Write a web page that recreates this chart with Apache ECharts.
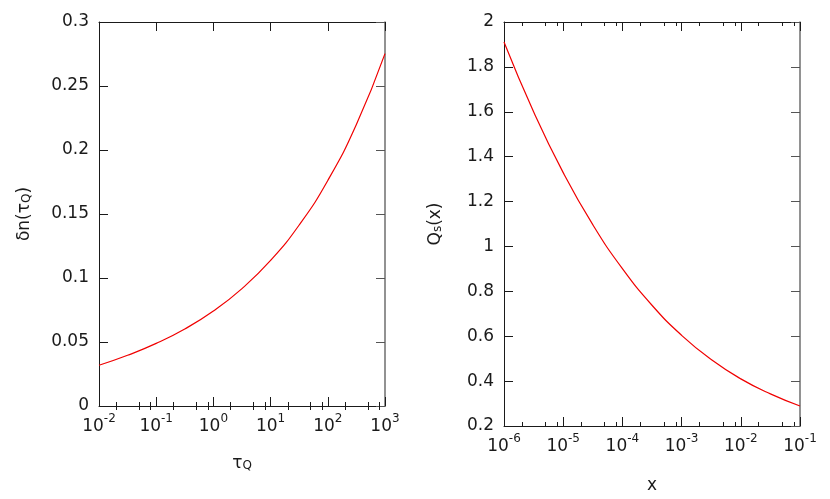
<!DOCTYPE html>
<html><head><meta charset="utf-8">
<script src="https://cdn.jsdelivr.net/npm/echarts@6/dist/echarts.min.js"></script>
<style>html,body{margin:0;padding:0;background:#fff}#c{width:830px;height:499px}</style>
</head><body><div id="c"></div>
<script>
// Left panel: delta n vs tau_Q
const tauQ   = [0.01, 0.0316, 0.1, 0.316, 1, 3.16, 10, 31.6, 100, 316, 1000];
const deltaN = [0.0318, 0.0396, 0.0489, 0.0602, 0.0742, 0.0917, 0.1137, 0.1414, 0.1762, 0.2199, 0.2753];
// Right panel: Q_s vs x
const xVals  = [1e-6, 3.16e-6, 1e-5, 3.16e-5, 1e-4, 3.16e-4, 1e-3, 3.16e-3, 1e-2, 3.16e-2, 1e-1];
const qsVals = [1.911, 1.600, 1.329, 1.097, 0.901, 0.738, 0.604, 0.496, 0.410, 0.343, 0.289];
// Ticks
const leftMajorTicks  = [1e-2, 1e-1, 1, 10, 100, 1000];
const leftMinorTicks  = [2e-2, 5e-2, 8e-2, 2e-1, 5e-1, 8e-1, 2, 5, 8, 20, 50, 80, 200, 500, 800];
const rightMajorTicks = [1e-6, 1e-5, 1e-4, 1e-3, 1e-2, 1e-1];
const rightMinorTicks = [2e-6, 5e-6, 8e-6, 2e-5, 5e-5, 8e-5, 2e-4, 5e-4, 8e-4, 2e-3, 5e-3, 8e-3, 2e-2, 5e-2, 8e-2];

const FONT = 'DejaVu Sans';
const BLACK = '#1a1a1a';
const rich = {
  b:   {fontFamily: FONT, fontSize: 17, color: BLACK, lineHeight: 22, verticalAlign: 'bottom'},
  sup: {fontFamily: FONT, fontSize: 12, color: BLACK, lineHeight: 22, verticalAlign: 'top'},
  sub: {fontFamily: FONT, fontSize: 12, color: BLACK, lineHeight: 14, verticalAlign: 'bottom'}
};
function powLabel(v){
  const e = Math.round(Math.log10(v));
  return '{b|10}{sup|' + e + '}';
}

function logAxes(grid, min, max, major, minor, name, nameGap){
  const base = {type:'log', logBase:10, gridIndex:grid, min:min, max:max, splitLine:{show:false}};
  return [
    Object.assign({}, base, {
      position:'bottom',
      axisLine:{show:true, onZero:false, lineStyle:{color:BLACK, width:1}},
      axisTick:{show:true, inside:true, length:9, customValues:major, lineStyle:{color:BLACK}},
      axisLabel:{show:true, customValues:major, formatter:powLabel, margin:7, rich:rich},
      name:name, nameLocation:'middle', nameGap:nameGap,
      nameTextStyle:{rich:rich}
    }),
    Object.assign({}, base, {
      position:'bottom',
      axisLine:{show:false},
      axisTick:{show:true, inside:true, length:4, customValues:minor, lineStyle:{color:BLACK}},
      axisLabel:{show:false}
    }),
    Object.assign({}, base, {
      position:'top',
      axisLine:{show:true, onZero:false, lineStyle:{color:BLACK, width:1}},
      axisTick:{show:true, inside:true, length:9, customValues:major, lineStyle:{color:BLACK}},
      axisLabel:{show:false}
    }),
    Object.assign({}, base, {
      position:'top',
      axisLine:{show:false},
      axisTick:{show:true, inside:true, length:4, customValues:minor, lineStyle:{color:BLACK}},
      axisLabel:{show:false}
    })
  ];
}
function valAxes(grid, min, max, interval, name, nameGap){
  const base = {type:'value', gridIndex:grid, min:min, max:max, interval:interval, splitLine:{show:false}};
  return [
    Object.assign({}, base, {
      position:'left',
      axisLine:{show:true, onZero:false, lineStyle:{color:BLACK, width:1}},
      axisTick:{show:true, inside:true, length:9, lineStyle:{color:BLACK}},
      axisLabel:{show:true, margin:10, fontFamily:FONT, fontSize:17, color:BLACK},
      name:name, nameLocation:'middle', nameGap:nameGap, nameRotate:90,
      nameTextStyle:{rich:rich}
    }),
    Object.assign({}, base, {
      position:'right',
      axisLine:{show:true, onZero:false, lineStyle:{color:'#6e6e6e', width:1.5}},
      axisTick:{show:true, inside:true, length:9, lineStyle:{color:'#555'}},
      axisLabel:{show:false}
    })
  ];
}

const xAxes = [].concat(
  logAxes(0, 1e-2, 1e3, leftMajorTicks, leftMinorTicks, '{b|τ}{sub|Q}', 44),
  logAxes(1, 1e-6, 1e-1, rightMajorTicks, rightMinorTicks, '{b|x}', 46)
);
const yAxes = [].concat(
  valAxes(0, 0, 0.3, 0.05, '{b|δn(τ}{sub|Q}{b|)}', 66),
  valAxes(1, 0.2, 2, 0.2, '{b|Q}{sub|s}{b|(x)}', 60)
);

const chart = echarts.init(document.getElementById('c'), null, {renderer:'canvas'});
chart.setOption({
  animation:false,
  backgroundColor:'#fff',
  grid:[
    {left:99, right:445, top:22, bottom:93, containLabel:false},
    {left:504, right:30, top:22, bottom:71, containLabel:false}
  ],
  xAxis: xAxes,
  yAxis: yAxes,
  series:[
    {type:'line', xAxisIndex:0, yAxisIndex:0, smooth:0.5, showSymbol:false,
     lineStyle:{color:'#f00000', width:1.2},
     data: tauQ.map((t,i)=>[t, deltaN[i]])},
    {type:'line', xAxisIndex:4, yAxisIndex:2, smooth:0.5, showSymbol:false,
     lineStyle:{color:'#f00000', width:1.2},
     data: xVals.map((t,i)=>[t, qsVals[i]])}
  ]
});
</script>
</body></html>
